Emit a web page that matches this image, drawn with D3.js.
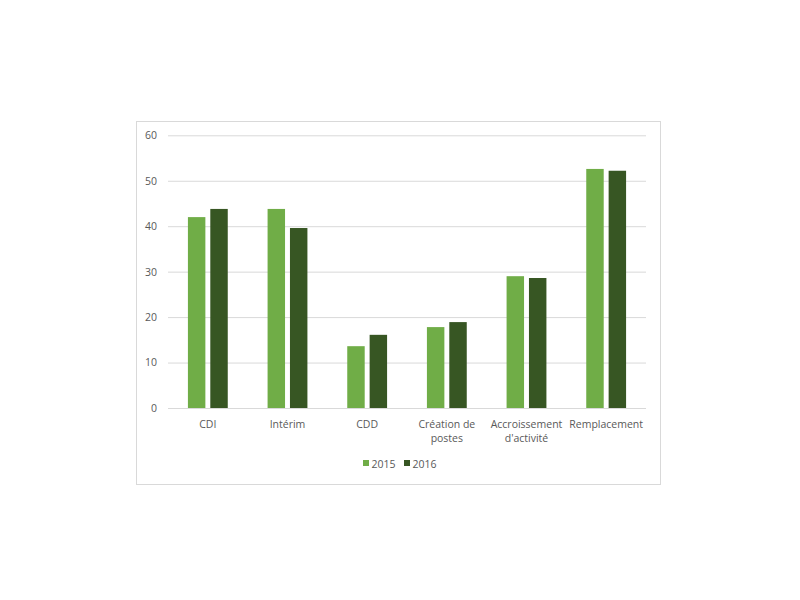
<!DOCTYPE html>
<html><head><meta charset="utf-8">
<script src="https://cdn.jsdelivr.net/npm/d3@7"></script>
<style>body{margin:0;background:#fff}svg{display:block}text{font-family:"Open Sans",sans-serif;fill:#595959}</style>
</head><body>
<svg id="c" width="800" height="600"></svg>
<script>
const categories = [["CDI"],["Intérim"],["CDD"],["Création de","postes"],["Accroissement","d'activité"],["Remplacement"]];
const series = ["2015","2016"];
const values2015 = [42.0, 43.8, 13.6, 17.8, 29.0, 52.6];
const values2016 = [43.8, 39.6, 16.1, 18.9, 28.6, 52.2];
const yTicks = [0,10,20,30,40,50,60];
const colors = ["#70AD47","#375623"];

const svg = d3.select("#c");
svg.append("rect").attr("x",136.5).attr("y",121.5).attr("width",524).attr("height",363)
  .attr("fill","#fff").attr("stroke","#d9d9d9");

const catKeys = categories.map(c=>c.join(" "));
const x0 = d3.scaleBand().domain(catKeys).range([168,646]).paddingInner(0.5).paddingOuter(0.25);
const x1 = d3.scaleBand().domain(series).range([0,x0.bandwidth()]).paddingInner(0.22);
const y = d3.scaleLinear().domain([0,60]).range([408,135.3]);

const yAxis = svg.append("g").attr("transform","translate(168,0)")
  .call(d3.axisLeft(y).tickValues(yTicks).tickSize(-478).tickPadding(11));
yAxis.select(".domain").remove();
yAxis.selectAll(".tick line").attr("stroke","#d9d9d9");
yAxis.selectAll(".tick text").attr("font-size","10.5px").attr("fill","#595959").style("font-family","'Open Sans',sans-serif");

const data = catKeys.map((k,i)=>({k, vals:[values2015[i], values2016[i]]}));
const g = svg.append("g");
data.forEach(d=>{
  d.vals.forEach((v,j)=>{
    g.append("rect").attr("x",x0(d.k)+x1(series[j])).attr("y",y(v))
      .attr("width",x1.bandwidth()).attr("height",y(0)-y(v)).attr("fill",colors[j]);
  });
});

const xl = svg.append("g");
categories.forEach((c,i)=>{
  const t = xl.append("text").attr("x",x0(catKeys[i])+x0.bandwidth()/2).attr("y",428)
    .attr("text-anchor","middle").attr("font-size","10.5px");
  c.forEach((line,li)=>{
    t.append("tspan").attr("x",x0(catKeys[i])+x0.bandwidth()/2).attr("dy",li?13.7:0).text(line);
  });
});

const legX = [363,404];
series.forEach((s,j)=>{
  svg.append("rect").attr("x",legX[j]).attr("y",460).attr("width",6).attr("height",6).attr("fill",colors[j]);
  svg.append("text").attr("x",legX[j]+8.5).attr("y",467.5).attr("font-size","10.5px").text(s);
});
</script>
</body></html>
